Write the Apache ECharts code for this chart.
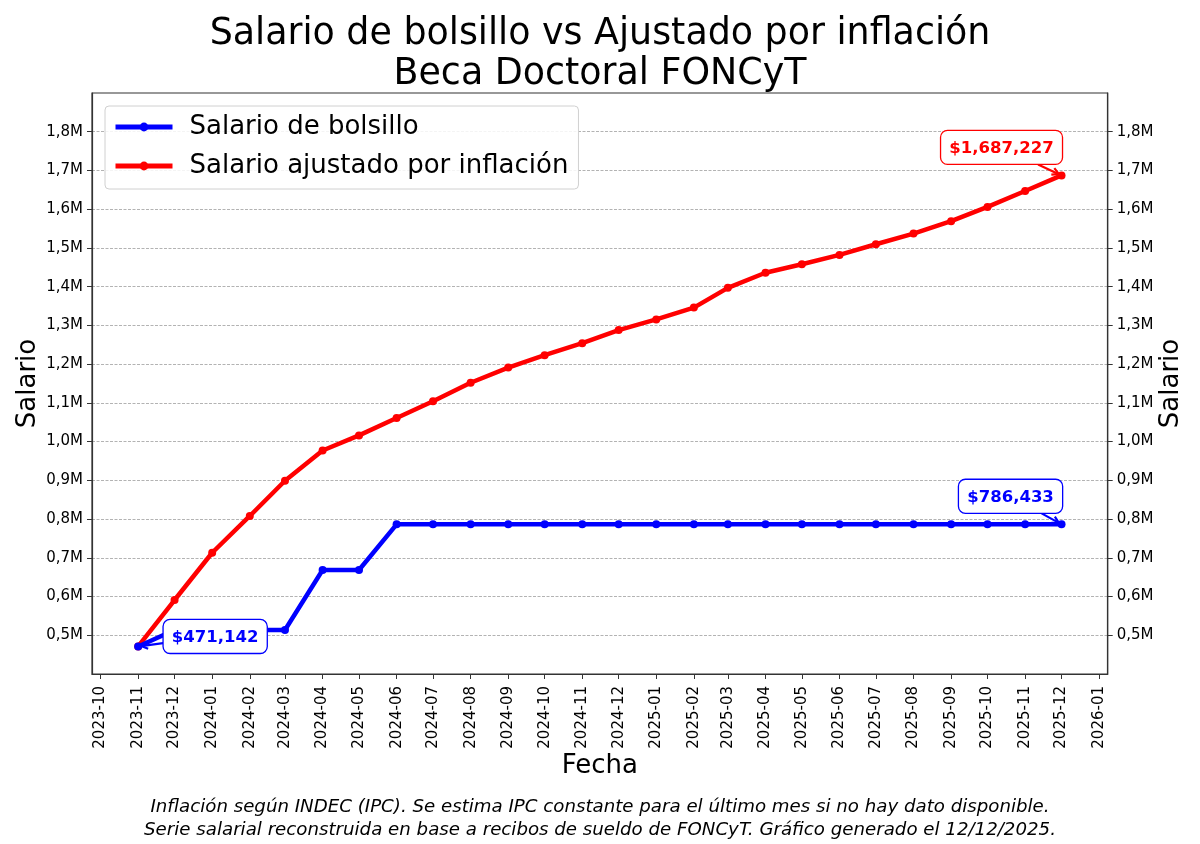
<!DOCTYPE html>
<html>
<head>
<meta charset="utf-8">
<script src="https://cdn.jsdelivr.net/npm/echarts@6/dist/echarts.min.js"></script>
<style>
  html, body { margin: 0; padding: 0; background: #fff; }
  #chart { width: 1200px; height: 844px; }
</style>
</head>
<body>
<div id="chart"></div>
<script>
// ---- data ----
const months = ['2023-11','2023-12','2024-01','2024-02','2024-03','2024-04','2024-05','2024-06',
  '2024-07','2024-08','2024-09','2024-10','2024-11','2024-12','2025-01','2025-02','2025-03',
  '2025-04','2025-05','2025-06','2025-07','2025-08','2025-09','2025-10','2025-11','2025-12'];
const salarioBolsillo = [471142, 513700, 513700, 513700, 513700, 668600, 668600, 786433,
  786433, 786433, 786433, 786433, 786433, 786433, 786433, 786433, 786433,
  786433, 786433, 786433, 786433, 786433, 786433, 786433, 786433, 786433];
const salarioAjustado = [471142, 591000, 713000, 808000, 899000, 977000, 1016000, 1061000,
  1104000, 1152000, 1191000, 1223000, 1254000, 1288000, 1315500, 1346000, 1397000,
  1436000, 1458000, 1482000, 1509500, 1537000, 1569000, 1606000, 1647000, 1687227];
const xTickLabels = ['2023-10','2023-11','2023-12','2024-01','2024-02','2024-03','2024-04',
  '2024-05','2024-06','2024-07','2024-08','2024-09','2024-10','2024-11','2024-12','2025-01',
  '2025-02','2025-03','2025-04','2025-05','2025-06','2025-07','2025-08','2025-09','2025-10',
  '2025-11','2025-12','2026-01'];
const yTickValues = [500000, 600000, 700000, 800000, 900000, 1000000, 1100000, 1200000,
  1300000, 1400000, 1500000, 1600000, 1700000, 1800000];
const titleText = 'Salario de bolsillo vs Ajustado por inflación\nBeca Doctoral FONCyT';
const footerText = 'Inflación según INDEC (IPC). Se estima IPC constante para el último mes si no hay dato disponible.\nSerie salarial reconstruida en base a recibos de sueldo de FONCyT. Gráfico generado el 12/12/2025.';

// ---- helpers ----
function monthTs(s) { const p = s.split('-').map(Number); return Date.UTC(p[0], p[1] - 1, 1); }
function tsLabel(v) {
  const d = new Date(v);
  const m = d.getUTCMonth() + 1;
  return d.getUTCFullYear() + '-' + (m < 10 ? '0' + m : m);
}
const xTs = months.map(monthTs);
const span = xTs[xTs.length - 1] - xTs[0];
const xMin = xTs[0] - 0.05 * span;
const xMax = xTs[xTs.length - 1] + 0.05 * span;
const xTickTs = xTickLabels.map(monthTs);

const BLUE = '#0000ff', RED = '#ff0000';
const FONT = '"DejaVu Sans", sans-serif';

// annotations: point taken from the series, offsets are styling
const last = months.length - 1;
const annotations = [
  { x: xTs[0], y: salarioBolsillo[0], color: BLUE, dx: 77, dy: -10 },
  { x: xTs[last], y: salarioAjustado[last], color: RED, dx: -60, dy: -28 },
  { x: xTs[last], y: salarioBolsillo[last], color: BLUE, dx: -51, dy: -28 }
];
const measureCtx = document.createElement('canvas').getContext('2d');
const ANN_FONT_SIZE = 16.5;
const ANN_FONT = 'bold ' + ANN_FONT_SIZE + 'px ' + FONT;

function fmtMoney(v) { return '$' + Math.round(v).toLocaleString('en-US'); }

function renderAnnotation(params, api) {
  const a = annotations[params.dataIndex];
  const p = api.coord([api.value(0), api.value(1)]);
  const text = fmtMoney(api.value(1));
  measureCtx.font = ANN_FONT;
  const tw = measureCtx.measureText(text).width;
  const pad = 8.8;
  const w = tw + 2 * pad, h = ANN_FONT_SIZE + 2 * 8.8;
  const cx = p[0] + a.dx, cy = p[1] + a.dy;
  const bx = cx - w / 2, by = cy - h / 2;
  // arrow from box edge toward point
  const vx = p[0] - cx, vy = p[1] - cy;
  let t = 1;
  if (vx !== 0) t = Math.min(t, Math.abs((w / 2) / vx));
  if (vy !== 0) t = Math.min(t, Math.abs((h / 2) / vy));
  const sx = cx + vx * t, sy = cy + vy * t;
  const len = Math.hypot(p[0] - sx, p[1] - sy);
  const ux = (p[0] - sx) / len, uy = (p[1] - sy) / len;
  const shrink = 3;
  const ex = p[0] - ux * shrink, ey = p[1] - uy * shrink;
  const hl = 6.6, hw = 3.6;
  const nx = -uy, ny = ux;
  const h1 = [ex - ux * hl + nx * hw, ey - uy * hl + ny * hw];
  const h2 = [ex - ux * hl - nx * hw, ey - uy * hl - ny * hw];
  return {
    type: 'group',
    children: [
      { type: 'polyline', shape: { points: [[sx, sy], [ex, ey]] },
        style: { stroke: a.color, lineWidth: 2.2, fill: null } },
      { type: 'polyline', shape: { points: [h1, [ex, ey], h2] },
        style: { stroke: a.color, lineWidth: 2.2, fill: null } },
      { type: 'rect', shape: { x: bx, y: by, width: w, height: h, r: 7 },
        style: { fill: '#ffffff', stroke: a.color, lineWidth: 1.3 } },
      { type: 'text', style: { text: text, x: cx, y: cy + 1, align: 'center', verticalAlign: 'middle',
        font: ANN_FONT, fill: a.color } }
    ]
  };
}

const chart = echarts.init(document.getElementById('chart'), null, { renderer: 'canvas' });

const yLabelFmt = function (v) {
  if (v < 500000 || v > 1800000) return '';
  return (v / 1e6).toFixed(1).replace('.', ',') + 'M';
};

const yAxisCommon = {
  type: 'value', min: 400000, max: 1900000, interval: 100000,
  name: 'Salario', nameLocation: 'middle', nameRotate: 90, nameMoveOverlap: false,
  nameTextStyle: { fontSize: 26, color: '#000', fontFamily: FONT },
  axisLine: { show: true, lineStyle: { color: '#333', width: 1.2 } },
  axisTick: { show: true, length: 5, customValues: yTickValues, lineStyle: { color: '#333', width: 1 } },
  axisLabel: { customValues: yTickValues, formatter: yLabelFmt, fontSize: 15, color: '#000', fontFamily: FONT, margin: 9 }
};

chart.setOption({
  animation: false,
  backgroundColor: '#fff',
  title: [
    { text: titleText, left: 'center', top: 10,
      textStyle: { fontSize: 36.4, fontWeight: 'normal', color: '#000', fontFamily: FONT, lineHeight: 40 } },
    { text: footerText, left: 'center', top: 791,
      textStyle: { fontSize: 18.2, fontWeight: 'normal', fontStyle: 'italic', color: '#000', fontFamily: FONT, lineHeight: 23, align: 'center' } }
  ],
  grid: { left: 92, right: 92.3, top: 93, bottom: 170, show: true, borderColor: '#333', borderWidth: 1.2, backgroundColor: 'transparent' },
  legend: {
    orient: 'vertical', left: 105, top: 106,
    data: ['Salario de bolsillo', 'Salario ajustado por inflación'],
    itemWidth: 57, itemHeight: 11, itemGap: 13,
    padding: [8, 10, 10, 8],
    backgroundColor: 'rgba(255,255,255,0.85)',
    borderColor: '#d0d0d0', borderWidth: 1, borderRadius: 4,
    lineStyle: { width: 5 },
    textStyle: { fontSize: 26, color: '#000', fontFamily: FONT, padding: [0, 0, 0, 12] }
  },
  xAxis: {
    type: 'value', min: xMin, max: xMax,
    name: 'Fecha', nameLocation: 'middle', nameGap: 79, nameMoveOverlap: false,
    nameTextStyle: { fontSize: 26, color: '#000', fontFamily: FONT },
    splitLine: { show: false },
    axisLine: { show: true, onZero: false, lineStyle: { color: '#333', width: 1.2 } },
    axisTick: { show: true, length: 5, customValues: xTickTs, lineStyle: { color: '#333', width: 1 } },
    axisLabel: { customValues: xTickTs, formatter: tsLabel, rotate: 90, fontSize: 15, color: '#000', fontFamily: FONT, margin: 12 }
  },
  yAxis: [
    Object.assign({}, yAxisCommon, {
      position: 'left', nameGap: 51,
      splitLine: { show: true, lineStyle: { color: '#a0a0a0', width: 0.8, type: [3, 1.5] } }
    }),
    Object.assign({}, yAxisCommon, {
      position: 'right', nameGap: 51,
      splitLine: { show: false }
    })
  ],
  series: [
    {
      name: 'Salario ajustado por inflación', type: 'line', yAxisIndex: 0, z: 2,
      data: xTs.map((t, i) => [t, salarioAjustado[i]]),
      symbol: 'circle', symbolSize: 8, showAllSymbol: true,
      lineStyle: { color: RED, width: 4.5 }, itemStyle: { color: RED }
    },
    {
      name: 'Salario de bolsillo', type: 'line', yAxisIndex: 0, z: 3,
      data: xTs.map((t, i) => [t, salarioBolsillo[i]]),
      symbol: 'circle', symbolSize: 8, showAllSymbol: true,
      lineStyle: { color: BLUE, width: 4.5 }, itemStyle: { color: BLUE }
    },
    {
      type: 'custom', z: 10, clip: false, silent: true,
      renderItem: renderAnnotation,
      data: annotations.map(a => [a.x, a.y])
    }
  ]
});
</script>
</body>
</html>
